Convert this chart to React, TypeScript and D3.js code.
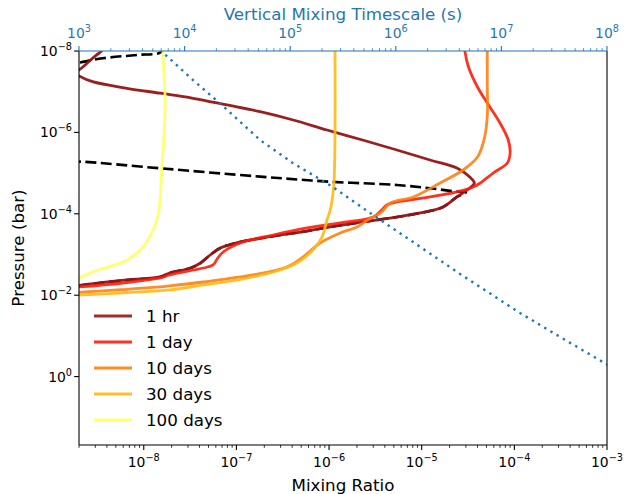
import React from "react";
import * as d3 from "d3";

const WIDTH = 626;
const HEIGHT = 494;
const LEFT = 79;
const RIGHT = 607;
const TOP = 51;
const BOTTOM = 445;

// mixing ratio profiles: mixing ratio vs pressure (bar)
const hr1Mix = [3.7e-9, 3.5e-9, 3.1e-9, 2.6e-9, 2.2e-9, 2.0e-9, 1.8e-9, 2.0e-9, 2.8e-9, 6.6e-9, 1.5e-8, 3.4e-8, 7.9e-8, 1.8e-7, 4.1e-7, 9.5e-7, 2.3e-6, 5.4e-6, 1.23e-5, 2.4e-5, 3.3e-5, 3.7e-5, 3.3e-5, 2.4e-5, 1.7e-5, 1.23e-5, 5.4e-6, 2.3e-6, 1.03e-6, 5.3e-7, 2.3e-7, 1.02e-7, 6.7e-8, 5.2e-8, 4.1e-8, 3.2e-8, 1.9e-8, 1.5e-8, 6.6e-9, 2.0e-9, 1.6e-9];
const hr1Pres = [7.5e-9, 1.0e-8, 1.25e-8, 1.76e-8, 2.47e-8, 2.93e-8, 3.47e-8, 4.11e-8, 5.68e-8, 8.25e-8, 1.09e-7, 1.45e-7, 2.12e-7, 3.1e-7, 4.96e-7, 8.73e-7, 1.54e-6, 2.71e-6, 4.76e-6, 7.5e-6, 1.25e-5, 1.75e-5, 2.32e-5, 3.86e-5, 6.8e-5, 8.53e-5, 1.2e-4, 1.59e-4, 2.11e-4, 2.75e-4, 3.65e-4, 5.13e-4, 6.92e-4, 1.03e-3, 1.62e-3, 2.15e-3, 2.85e-3, 3.57e-3, 4.23e-3, 5.78e-3, 6.28e-3];

const day1Mix = [2.9e-5, 2.95e-5, 3.2e-5, 4.0e-5, 5.1e-5, 7.0e-5, 8.6e-5, 9.0e-5, 8.4e-5, 5.9e-5, 4.3e-5, 3.6e-5, 2.4e-5, 1.23e-5, 5.4e-6, 4.2e-6, 3.7e-6, 3.0e-6, 1.32e-6, 5.8e-7, 2.5e-7, 1.1e-7, 7.2e-8, 6.3e-8, 5.6e-8, 4.4e-8, 1.9e-8, 1.5e-8, 6.6e-9, 2.0e-9, 1.6e-9];
const day1Pres = [7.1e-9, 1.12e-8, 2.47e-8, 7.67e-8, 1.9e-7, 5.87e-7, 1.54e-6, 3.21e-6, 5.65e-6, 9.95e-6, 1.75e-5, 2.2e-5, 2.91e-5, 3.86e-5, 5.13e-5, 6.08e-5, 8.07e-5, 1.2e-4, 1.68e-4, 2.23e-4, 3.32e-4, 5.22e-4, 8.68e-4, 1.22e-3, 1.81e-3, 2.15e-3, 3.19e-3, 3.78e-3, 4.88e-3, 6.28e-3, 6.47e-3];

const days10Mix = [5.1e-5, 5.1e-5, 5.1e-5, 5.1e-5, 4.7e-5, 4.0e-5, 2.8e-5, 1.58e-5, 8.1e-6, 4.6e-6, 3.6e-6, 2.6e-6, 2.0e-6, 1.32e-6, 8.0e-7, 5.25e-7, 3.5e-7, 1.5e-7, 4.4e-8, 1.9e-8, 1.5e-8, 6.6e-9, 2.0e-9, 1.6e-9];
const days10Pres = [7.1e-9, 1.12e-8, 6.1e-8, 4.18e-7, 1.54e-6, 4.02e-6, 8.4e-6, 1.75e-5, 3.86e-5, 5.43e-5, 9.55e-5, 1.42e-4, 2.11e-4, 2.96e-4, 5.22e-4, 1.15e-3, 2.03e-3, 3.19e-3, 4.74e-3, 5.94e-3, 6.28e-3, 7.16e-3, 8.49e-3, 8.6e-3];

const days30Mix = [1.16e-6, 1.16e-6, 1.16e-6, 1.13e-6, 1.08e-6, 1.03e-6, 9.5e-7, 8.4e-7, 6.7e-7, 4.5e-7, 2.3e-7, 1.02e-7, 4.4e-8, 1.9e-8, 6.6e-9, 2.0e-9, 1.6e-9];
const days30Pres = [7.1e-9, 1.12e-8, 1.04e-6, 1.75e-5, 4.58e-5, 8.07e-5, 1.42e-4, 3.72e-4, 7.75e-4, 1.62e-3, 2.85e-3, 4.23e-3, 5.61e-3, 7.45e-3, 8.6e-3, 9.89e-3, 1.0e-2];

const days100Mix = [1.61e-8, 1.61e-8, 1.7e-8, 1.66e-8, 1.57e-8, 1.5e-8, 1.43e-8, 1.26e-8, 9.8e-9, 6.6e-9, 2.8e-9, 2.0e-9, 1.6e-9];
const days100Pres = [7.1e-9, 1.12e-8, 1.6e-7, 1.04e-6, 7.08e-6, 4.58e-5, 1.07e-4, 2.5e-4, 6.54e-4, 1.36e-3, 2.69e-3, 3.78e-3, 4.23e-3];

// equilibrium profile (black dashed)
const eqMix = [1.7e-8, 1.5e-8, 8.5e-9, 3.6e-9, 2.0e-9, 1.25e-9, 1.25e-9, 2.2e-9, 1.5e-8, 1.8e-7, 1.03e-6, 5.4e-6, 1.23e-5, 2.4e-5, 3.0e-5, 2.4e-5, 1.7e-5, 1.23e-5, 5.4e-6, 2.3e-6, 1.03e-6, 5.3e-7, 2.3e-7, 1.02e-7, 6.7e-8, 5.2e-8, 4.1e-8, 3.2e-8, 1.9e-8, 1.5e-8, 6.6e-9, 2.0e-9, 1.6e-9];
const eqPres = [8.0e-9, 1.1e-8, 1.25e-8, 1.51e-8, 1.94e-8, 2.34e-8, 5.04e-6, 5.25e-6, 7.62e-6, 1.22e-5, 1.63e-5, 1.96e-5, 2.36e-5, 2.86e-5, 2.95e-5, 3.86e-5, 6.8e-5, 8.53e-5, 1.2e-4, 1.59e-4, 2.11e-4, 2.75e-4, 3.65e-4, 5.13e-4, 6.92e-4, 1.03e-3, 1.62e-3, 2.15e-3, 2.85e-3, 3.57e-3, 4.23e-3, 5.78e-3, 6.28e-3];

// vertical mixing timescale (s) vs pressure (bar), top axis
const mixTime = [5.85e3, 1.2e4, 2.31e4, 5.18e4, 1.06e5, 2.54e5, 6.08e5, 1.28e6, 4.06e6, 1.5e7, 3.59e7, 1.02e8];
const mixTimePres = [9.4e-9, 5.16e-8, 2.25e-7, 1.54e-6, 5.65e-6, 2.2e-5, 1.07e-4, 3.93e-4, 3.01e-3, 2.74e-2, 0.106, 0.519];

const labels = ["1 hr", "1 day", "10 days", "30 days", "100 days"];
const colors = ["#961616", "#ff1c0a", "#ff7f0e", "#ffb812", "#ffff60"];
const mixes = [hr1Mix, day1Mix, days10Mix, days30Mix, days100Mix];
const pressures = [hr1Pres, day1Pres, days10Pres, days30Pres, days100Pres];

const xMajor = [-8, -7, -6, -5, -4, -3];
const yMajor = [-8, -6, -4, -2, 0];
const topMajor = [3, 4, 5, 6, 7, 8];

const FONT = "DejaVu Sans";
const BLUE = "#1f77b4";

function Pow({ x, y, exp, anchor, size, fill }) {
  const e = exp < 0 ? `\u2212${-exp}` : `${exp}`;
  return (
    <text x={x} y={y} textAnchor={anchor} fontSize={size} fill={fill} fontFamily={FONT}>
      10
      <tspan dy={-0.43 * size} fontSize={size * 0.7}>
        {e}
      </tspan>
    </text>
  );
}

export default function App() {
  const x = d3.scaleLog().domain([2e-9, 1e-3]).range([LEFT, RIGHT]);
  const y = d3.scaleLog().domain([1e-8, 48]).range([TOP, BOTTOM]);
  const xTop = d3.scaleLog().domain([1e3, 1e8]).range([LEFT, RIGHT]);

  const smooth = d3
    .line<[number, number]>()
    .x((d) => x(d[0]))
    .y((d) => y(d[1]))
    .curve(d3.curveCatmullRom.alpha(0.5));
  const timeLine = d3
    .line<[number, number]>()
    .x((d) => xTop(d[0]))
    .y((d) => y(d[1]));

  const zip = (a: number[], b: number[]) => a.map((v, i) => [v, b[i]] as [number, number]);

  const xMinor: number[] = [];
  for (let k = -9; k <= -4; k++)
    for (let j = 2; j <= 9; j++) {
      const v = j * Math.pow(10, k);
      if (v >= 2e-9 && v <= 1e-3) xMinor.push(v);
    }
  const topMinor: number[] = [];
  for (let k = 3; k <= 7; k++) for (let j = 2; j <= 9; j++) topMinor.push(j * Math.pow(10, k));

  return (
    <svg
      width={WIDTH}
      height={HEIGHT}
      style={{ position: "absolute", left: 0, top: 0, background: "#fff" }}
      fontFamily={FONT}
    >
      <defs>
        <clipPath id="plot">
          <rect x={LEFT} y={TOP} width={RIGHT - LEFT} height={BOTTOM - TOP} />
        </clipPath>
      </defs>

      <g clipPath="url(#plot)" fill="none">
        <path d={smooth(zip(eqMix, eqPres)) || ""} stroke="#000" strokeWidth={2.6} strokeDasharray="11 4.5" />
        {mixes.map((m, i) => (
          <path
            key={labels[i]}
            d={smooth(zip(m, pressures[i])) || ""}
            stroke={colors[i]}
            strokeOpacity={i === 0 ? 0.96 : 0.9}
            strokeWidth={2.8}
          />
        ))}
        <path
          d={timeLine(zip(mixTime, mixTimePres)) || ""}
          stroke={BLUE}
          strokeWidth={2.4}
          strokeDasharray="2.4 4.8"
        />
      </g>

      {/* spines */}
      <line x1={LEFT} x2={LEFT} y1={TOP} y2={BOTTOM} stroke="#000" strokeWidth={1.1} />
      <line x1={RIGHT} x2={RIGHT} y1={TOP} y2={BOTTOM} stroke="#000" strokeWidth={1.1} />
      <line x1={LEFT} x2={RIGHT} y1={BOTTOM} y2={BOTTOM} stroke="#000" strokeWidth={1.1} />
      <line x1={LEFT} x2={RIGHT} y1={TOP} y2={TOP} stroke={BLUE} strokeWidth={1.1} />

      {/* bottom axis */}
      {xMinor.map((v) => (
        <line key={"xm" + v} x1={x(v)} x2={x(v)} y1={BOTTOM} y2={BOTTOM + 2.8} stroke="#000" strokeWidth={0.8} />
      ))}
      {xMajor.map((e) => (
        <g key={"xM" + e}>
          <line x1={x(Math.pow(10, e))} x2={x(Math.pow(10, e))} y1={BOTTOM} y2={BOTTOM + 4.9} stroke="#000" strokeWidth={1.1} />
          <Pow x={x(Math.pow(10, e))} y={467} exp={e} anchor="middle" size={13.9} fill="#000" />
        </g>
      ))}

      {/* left axis */}
      {yMajor.map((e) => (
        <g key={"yM" + e}>
          <line x1={LEFT - 4.9} x2={LEFT} y1={y(Math.pow(10, e))} y2={y(Math.pow(10, e))} stroke="#000" strokeWidth={1.1} />
          <Pow x={72} y={y(Math.pow(10, e)) + 5} exp={e} anchor="end" size={13.9} fill="#000" />
        </g>
      ))}

      {/* top axis */}
      {topMinor.map((v) => (
        <line key={"tm" + v} x1={xTop(v)} x2={xTop(v)} y1={TOP} y2={TOP - 2.8} stroke={BLUE} strokeWidth={0.8} />
      ))}
      {topMajor.map((e) => (
        <g key={"tM" + e}>
          <line x1={xTop(Math.pow(10, e))} x2={xTop(Math.pow(10, e))} y1={TOP} y2={TOP - 4.9} stroke={BLUE} strokeWidth={1.1} />
          <Pow x={xTop(Math.pow(10, e))} y={37.5} exp={e} anchor="middle" size={13.9} fill={BLUE} />
        </g>
      ))}

      {/* axis labels */}
      <text x={(LEFT + RIGHT) / 2} y={491} textAnchor="middle" fontSize={16.7}>
        Mixing Ratio
      </text>
      <text x={(LEFT + RIGHT) / 2} y={20} textAnchor="middle" fontSize={16.7} fill={BLUE}>
        Vertical Mixing Timescale (s)
      </text>
      <text
        transform={`translate(24,${(TOP + BOTTOM) / 2}) rotate(-90)`}
        textAnchor="middle"
        fontSize={16.7}
      >
        Pressure (bar)
      </text>

      {/* legend */}
      {labels.map((lab, i) => {
        const ly = 316 + i * 26;
        return (
          <g key={"lg" + lab}>
            <line x1={94} x2={132} y1={ly} y2={ly} stroke={colors[i]} strokeOpacity={0.9} strokeWidth={2.8} />
            <text x={146} y={ly + 6} fontSize={16.7}>
              {lab}
            </text>
          </g>
        );
      })}
    </svg>
  );
}
